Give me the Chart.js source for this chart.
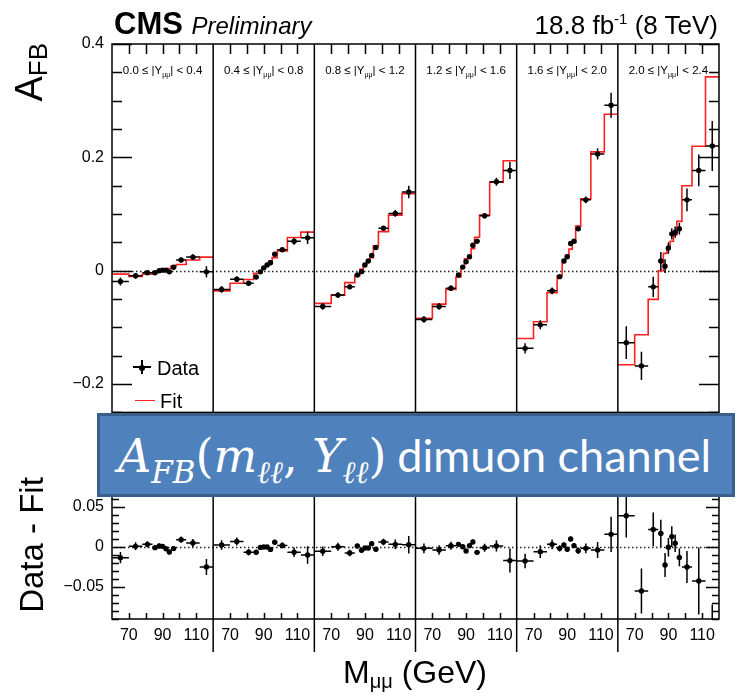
<!DOCTYPE html>
<html>
<head>
<meta charset="utf-8">
<title>AFB dimuon channel</title>
<script src="https://cdn.jsdelivr.net/npm/chart.js@4.4.1/dist/chart.umd.min.js"></script>
<style>
  html, body { margin: 0; padding: 0; background: #fff; }
  #page { position: relative; width: 743px; height: 694px; overflow: hidden;
          font-family: "Liberation Sans", Arial, Helvetica, sans-serif; color: #000; }
  canvas { position: absolute; left: 0; }
  .t { position: absolute; white-space: nowrap; line-height: 1; }
  .rot { transform-origin: 0 0; transform: rotate(-90deg); }
  .plabel { font-size: 11.5px; transform: translateX(-50%); top: 65px; }
  .plabel sub { font-size: 7px; vertical-align: -3px; line-height: 0; }
  #box { position: absolute; left: 97px; top: 413px; width: 632px; height: 78px;
         background: #4f81bd; border: 3px solid #3a5f8b; color: #fff;
         display: flex; align-items: center; white-space: nowrap; }
  #box .math { font-family: "DejaVu Serif", serif; font-style: italic; font-size: 46px; margin-left: 18px; margin-top: 2px; }
  #box .math sub { font-size: 31px; vertical-align: -0.35em; line-height: 0; }
  #box .math .up { font-style: normal; }
  #box .txt { font-family: Lato, "Open Sans", sans-serif; font-size: 45px; margin-left: 11px; }
  .leg { position: absolute; background: #000; }
</style>
</head>
<body>
<div id="page">
  <canvas id="topChart" width="743" height="430" style="top:0"></canvas>
  <canvas id="botChart" width="743" height="264" style="top:430px"></canvas>

  <div class="t" style="left:114px;top:8px;font-size:31px"><b>CMS</b> <i style="font-size:24px">Preliminary</i></div>
  <div class="t" style="right:25px;top:12px;font-size:26px">18.8 fb<sup style="font-size:15px;line-height:0">-1</sup> (8 TeV)</div>

  <div class="t rot" style="left:10px;top:243px;width:200px;text-align:right;font-size:38px">A<sub style="font-size:26px;vertical-align:-0.2em;line-height:0">FB</sub></div>
  <div class="t rot" style="left:15px;top:695px;width:300px;text-align:center;font-size:33px">Data - Fit</div>
  <div class="t" style="left:265px;top:656px;width:300px;text-align:center;font-size:32px">M<sub style="font-size:20px;vertical-align:-0.25em;line-height:0">μμ</sub> (GeV)</div>

  <!-- legend -->
  <div class="leg" style="left:133px;top:366px;width:18px;height:1.5px"></div>
  <div class="leg" style="left:141px;top:360px;width:1.5px;height:14px"></div>
  <div class="leg" style="left:139px;top:364.5px;width:6px;height:6px;border-radius:50%"></div>
  <div class="t" style="left:157px;top:358px;font-size:20px">Data</div>
  <div class="leg" style="left:135px;top:399.5px;width:20px;height:1.5px;background:#ff2020"></div>
  <div class="t" style="left:160px;top:391px;font-size:20px">Fit</div>

  <div id="box"><span class="math">A<sub>FB</sub><span class="up">(</span>m<sub>ℓℓ</sub><span class="up">, </span>Y<sub>ℓℓ</sub><span class="up">)</span></span><span class="txt">dimuon channel</span></div>
</div>

<script>
// bins in dimuon mass (GeV), the same in every rapidity panel
const massEdges = [60, 70, 78, 84, 87, 89, 91, 93, 95, 98, 104, 112, 120];
const massCenters = [65, 74, 81, 85.5, 88, 90, 92, 94, 96.5, 101, 108, 116];
const rapidityEdges = ['0.0', '0.4', '0.8', '1.2', '1.6', '2.0', '2.4'];
const massTicks = [70, 80, 90, 100, 110];
const massLabels = [70, 90, 110];

const topYTicks = [-0.2, 0, 0.2, 0.4];
const topYLabels = ['\u22120.2', '0', '0.2', '0.4'];
const botYTicks = [-0.05, 0, 0.05];
const botYLabels = ['\u22120.05', '0', '0.05'];

// measured A_FB per rapidity bin
const afb1 = [-0.019, -0.009, -0.0035, -0.0035, 0.000, 0.001, 0.001, -0.002, 0.006, 0.019, 0.024, -0.002];
const afb2 = [-0.033, -0.015, -0.022, -0.011, -0.002, 0.005, 0.010, 0.014, 0.029, 0.037, 0.052, 0.058];
const afb3 = [-0.063, -0.043, -0.0285, -0.0075, -0.0017, 0.010, 0.017, 0.027, 0.041, 0.075, 0.101, 0.139];
const afb4 = [-0.086, -0.063, -0.031, -0.0075, 0.0064, 0.0157, 0.0245, 0.045, 0.052, 0.097, 0.157, 0.177];
const afb5 = [-0.137, -0.0955, -0.0355, -0.0105, 0.017, 0.0245, 0.048, 0.052, 0.074, 0.125, 0.206, 0.292];
const afb6 = [-0.127, -0.168, -0.0285, 0.017, 0.008, 0.040, 0.065, 0.068, 0.074, 0.125, 0.177, 0.220];

// fit (red histogram)
const fit1 = [-0.006, -0.010, -0.006, -0.003, -0.001, 0.001, 0.002, 0.004, 0.008, 0.011, 0.019, 0.024];
const fit2 = [-0.0355, -0.022, -0.0155, -0.0045, -0.0015, 0.005, 0.010, 0.017, 0.023, 0.035, 0.0585, 0.068];
const fit3 = [-0.0576, -0.043, -0.021, -0.0087, 0.0025, 0.011, 0.018, 0.023, 0.044, 0.069, 0.098, 0.136];
const fit4 = [-0.084, -0.059, -0.033, -0.011, 0.006, 0.021, 0.023, 0.039, 0.059, 0.098, 0.156, 0.194];
const fit5 = [-0.1195, -0.090, -0.0388, -0.0088, 0.0145, 0.0274, 0.038, 0.050, 0.0786, 0.1267, 0.2097, 0.276];
const fit6 = [-0.166, -0.113, -0.0505, 0.000, 0.0305, 0.040, 0.052, 0.063, 0.087, 0.150, 0.2195, 0.342];

// data - fit
const diff1 = [-0.0133, 0.0008, 0.0033, -0.0008, 0.0013, 0.0008, -0.0021, -0.0063, -0.002, 0.0092, 0.005, -0.025];
const diff2 = [0.0025, 0.007, -0.0066, -0.0066, -0.0005, 0.000, 0.000, -0.003, 0.006, 0.002, -0.0066, -0.010];
const diff3 = [-0.0054, 0.0004, -0.0075, 0.0012, -0.0042, -0.0012, -0.0012, 0.0042, -0.0029, 0.0062, 0.0033, 0.0029];
const diff4 = [-0.0017, -0.0037, 0.0017, 0.0033, 0.0004, -0.005, 0.0017, 0.0063, -0.0067, -0.0008, 0.0013, -0.017];
const diff5 = [-0.0175, -0.0058, 0.0033, -0.0017, 0.0025, -0.0029, 0.010, 0.0017, -0.0046, -0.0017, -0.0037, 0.0158];
const diff6 = [0.039, -0.055, 0.022, 0.017, -0.0225, -0.0004, 0.013, 0.0046, -0.013, -0.025, -0.0425, -0.122];

// statistical errors
const err1 = [0.007, 0.005, 0.004, 0.003, 0.003, 0.002, 0.002, 0.003, 0.003, 0.004, 0.005, 0.010];
const err2 = [0.006, 0.005, 0.004, 0.003, 0.003, 0.002, 0.002, 0.003, 0.003, 0.004, 0.006, 0.011];
const err3 = [0.006, 0.005, 0.004, 0.003, 0.003, 0.002, 0.002, 0.003, 0.003, 0.004, 0.006, 0.011];
const err4 = [0.006, 0.006, 0.005, 0.003, 0.003, 0.002, 0.002, 0.003, 0.003, 0.005, 0.007, 0.015];
const err5 = [0.009, 0.008, 0.006, 0.004, 0.003, 0.003, 0.003, 0.003, 0.004, 0.006, 0.010, 0.022];
const err6 = [0.029, 0.025, 0.018, 0.016, 0.012, 0.010, 0.010, 0.010, 0.010, 0.020, 0.028, 0.044];
const diffErr6 = [0.027, 0.028, 0.021, 0.017, 0.015, 0.0115, 0.013, 0.011, 0.011, 0.020, 0.042, 0.050];

const afbValues = [afb1, afb2, afb3, afb4, afb5, afb6];
const fitValues = [fit1, fit2, fit3, fit4, fit5, fit6];
const diffValues = [diff1, diff2, diff3, diff4, diff5, diff6];
const afbErrors = [err1, err2, err3, err4, err5, err6];
const diffErrors = [err1, err2, err3, err4, err5, diffErr6];

const nPanels = 6;
const span = 60;   // GeV shown in each panel
const u = (p, m) => p * span + (m - massEdges[0]);   // shared x coordinate

Chart.defaults.font.family = '"Liberation Sans", Arial, Helvetica, sans-serif';
Chart.defaults.color = '#000';

// frame, inward ticks, panel dividers, zero line and error bars (ROOT look)
const rootFrame = {
  id: 'rootFrame',
  beforeDatasetsDraw(chart) {
    const { ctx, chartArea: a, scales: { y } } = chart;
    const y0 = Math.round(y.getPixelForValue(0)) + 0.5;
    ctx.save();
    ctx.strokeStyle = '#222';
    ctx.lineWidth = 1.3;
    ctx.setLineDash([1.5, 2.5]);
    ctx.beginPath(); ctx.moveTo(a.left, y0); ctx.lineTo(a.right, y0); ctx.stroke();
    ctx.restore();
  },
  afterDatasetsDraw(chart) {
    const { ctx, chartArea: a, scales: { x, y } } = chart;
    ctx.save();
    ctx.beginPath(); ctx.rect(a.left, a.top, a.right - a.left, a.bottom - a.top); ctx.clip();
    ctx.strokeStyle = '#000';
    ctx.lineWidth = 1.5;
    chart.data.datasets.forEach(ds => {
      if (!ds.errY) return;
      ds.data.forEach((pt, i) => {
        const px = x.getPixelForValue(pt.x), py = y.getPixelForValue(pt.y);
        ctx.beginPath();
        ctx.moveTo(x.getPixelForValue(ds.xLo[i]), py);
        ctx.lineTo(x.getPixelForValue(ds.xHi[i]), py);
        ctx.moveTo(px, y.getPixelForValue(pt.y - ds.errY[i]));
        ctx.lineTo(px, y.getPixelForValue(pt.y + ds.errY[i]));
        ctx.stroke();
      });
    });
    ctx.restore();
  },
  afterDraw(chart, args, o) {
    const { ctx, chartArea: a, scales: { x, y } } = chart;
    ctx.save();
    ctx.strokeStyle = '#000';
    ctx.lineWidth = 1.5;
    ctx.strokeRect(a.left, a.top, a.right - a.left, a.bottom - a.top);
    ctx.beginPath();
    // y ticks on both sides
    const k0 = Math.ceil(y.min / o.minorStep - 1e-6), k1 = Math.floor(y.max / o.minorStep + 1e-6);
    for (let k = k0; k <= k1; k++) {
      const v = k * o.minorStep;
      const major = o.majors.some(m => Math.abs(m - v) < 1e-6);
      const len = major ? o.majorLen : o.minorLen;
      const py = Math.round(y.getPixelForValue(v)) + 0.5;
      ctx.moveTo(a.left, py); ctx.lineTo(a.left + len, py);
      ctx.moveTo(a.right, py); ctx.lineTo(a.right - len, py);
    }
    // x ticks in every panel
    for (let p = 0; p < nPanels; p++) {
      massTicks.forEach(m => {
        const px = Math.round(x.getPixelForValue(u(p, m))) + 0.5;
        if (o.xEdge === 'top') { ctx.moveTo(px, a.top); ctx.lineTo(px, a.top + o.xTickLen); }
        else { ctx.moveTo(px, a.bottom); ctx.lineTo(px, a.bottom - o.xTickLen); }
      });
    }
    // panel dividers
    for (let p = 1; p < nPanels; p++) {
      const px = x.getPixelForValue(p * span);
      ctx.moveTo(px, a.top); ctx.lineTo(px, a.bottom + o.dividerExtend);
    }
    ctx.stroke();
    ctx.restore();
  }
};

const marker = { pointRadius: 2.7, pointHoverRadius: 2.7, backgroundColor: '#000', borderWidth: 0 };

const topSets = [], botSets = [], fitSets = [];
for (let p = 0; p < nPanels; p++) {
  const xLo = massEdges.slice(0, -1).map(m => u(p, m));
  const xHi = massEdges.slice(1).map(m => u(p, m));
  topSets.push({ data: massCenters.map((m, i) => ({ x: u(p, m), y: afbValues[p][i] })),
                 errY: afbErrors[p], xLo, xHi, ...marker });
  botSets.push({ data: massCenters.map((m, i) => ({ x: u(p, m), y: diffValues[p][i] })),
                 errY: diffErrors[p], xLo, xHi, ...marker });
  const f = fitValues[p];
  // one point per bin edge, flat until the next edge
  fitSets.push({ data: massEdges.map((m, i) => ({ x: u(p, m), y: f[Math.min(i, f.length - 1)] })),
                 showLine: true, stepped: 'before', borderColor: '#ff2020', borderWidth: 1.6,
                 pointRadius: 0, pointHoverRadius: 0, fill: false });
}

const yAxis = (min, max, ticks, labels) => ({
  type: 'linear', min, max,
  afterFit: s => { s.width = 112; },
  afterBuildTicks: s => { s.ticks = ticks.map(v => ({ value: v })); },
  grid: { display: false, drawTicks: false }, border: { display: false },
  ticks: { callback: (v, i) => labels[i], font: { size: 16 }, color: '#000', padding: 8 }
});

const topChart = new Chart(document.getElementById('topChart'), {
  type: 'scatter',
  data: { datasets: [...topSets, ...fitSets] },
  options: {
    responsive: false, animation: false, events: [],
    layout: { padding: { left: 0, right: 24, top: 44, bottom: 14 } },
    scales: {
      x: { type: 'linear', min: 0, max: nPanels * span, display: false },
      y: yAxis(-0.25, 0.4, topYTicks, topYLabels)
    },
    plugins: {
      legend: { display: false }, tooltip: { enabled: false },
      rootFrame: { minorStep: 0.05, majors: topYTicks, majorLen: 20, minorLen: 10,
                   xEdge: 'top', xTickLen: 10, dividerExtend: 0 }
    }
  },
  plugins: [rootFrame]
});

new Chart(document.getElementById('botChart'), {
  type: 'scatter',
  data: { datasets: botSets },
  options: {
    responsive: false, animation: false, events: [],
    layout: { padding: { left: 0, right: 24, top: 45, bottom: 0 } },
    scales: {
      x: {
        type: 'linear', min: 0, max: nPanels * span,
        afterFit: s => { s.height = 75; },
        afterBuildTicks: s => {
          const t = [];
          for (let p = 0; p < nPanels; p++) massLabels.forEach(m => t.push({ value: u(p, m) }));
          s.ticks = t;
        },
        grid: { display: false, drawTicks: false }, border: { display: false },
        ticks: { callback: v => String(massEdges[0] + (v % span)), font: { size: 16 },
                 color: '#000', padding: 7, maxRotation: 0, autoSkip: false }
      },
      y: yAxis(-0.09, 0.09, botYTicks, botYLabels)
    },
    plugins: {
      legend: { display: false }, tooltip: { enabled: false },
      rootFrame: { minorStep: 0.01, majors: botYTicks, majorLen: 13, minorLen: 7,
                   xEdge: 'bottom', xTickLen: 6, dividerExtend: 33 }
    }
  },
  plugins: [rootFrame]
});

// rapidity bin labels, centred in each panel
const page = document.getElementById('page');
for (let p = 0; p < nPanels; p++) {
  const d = document.createElement('div');
  d.className = 't plabel';
  d.style.left = topChart.scales.x.getPixelForValue(u(p, 90)) + 'px';
  d.innerHTML = rapidityEdges[p] + ' \u2264 |Y<sub>\u03bc\u03bc</sub>| &lt; ' + rapidityEdges[p + 1];
  page.insertBefore(d, document.getElementById('box'));
}
</script>
</body>
</html>
